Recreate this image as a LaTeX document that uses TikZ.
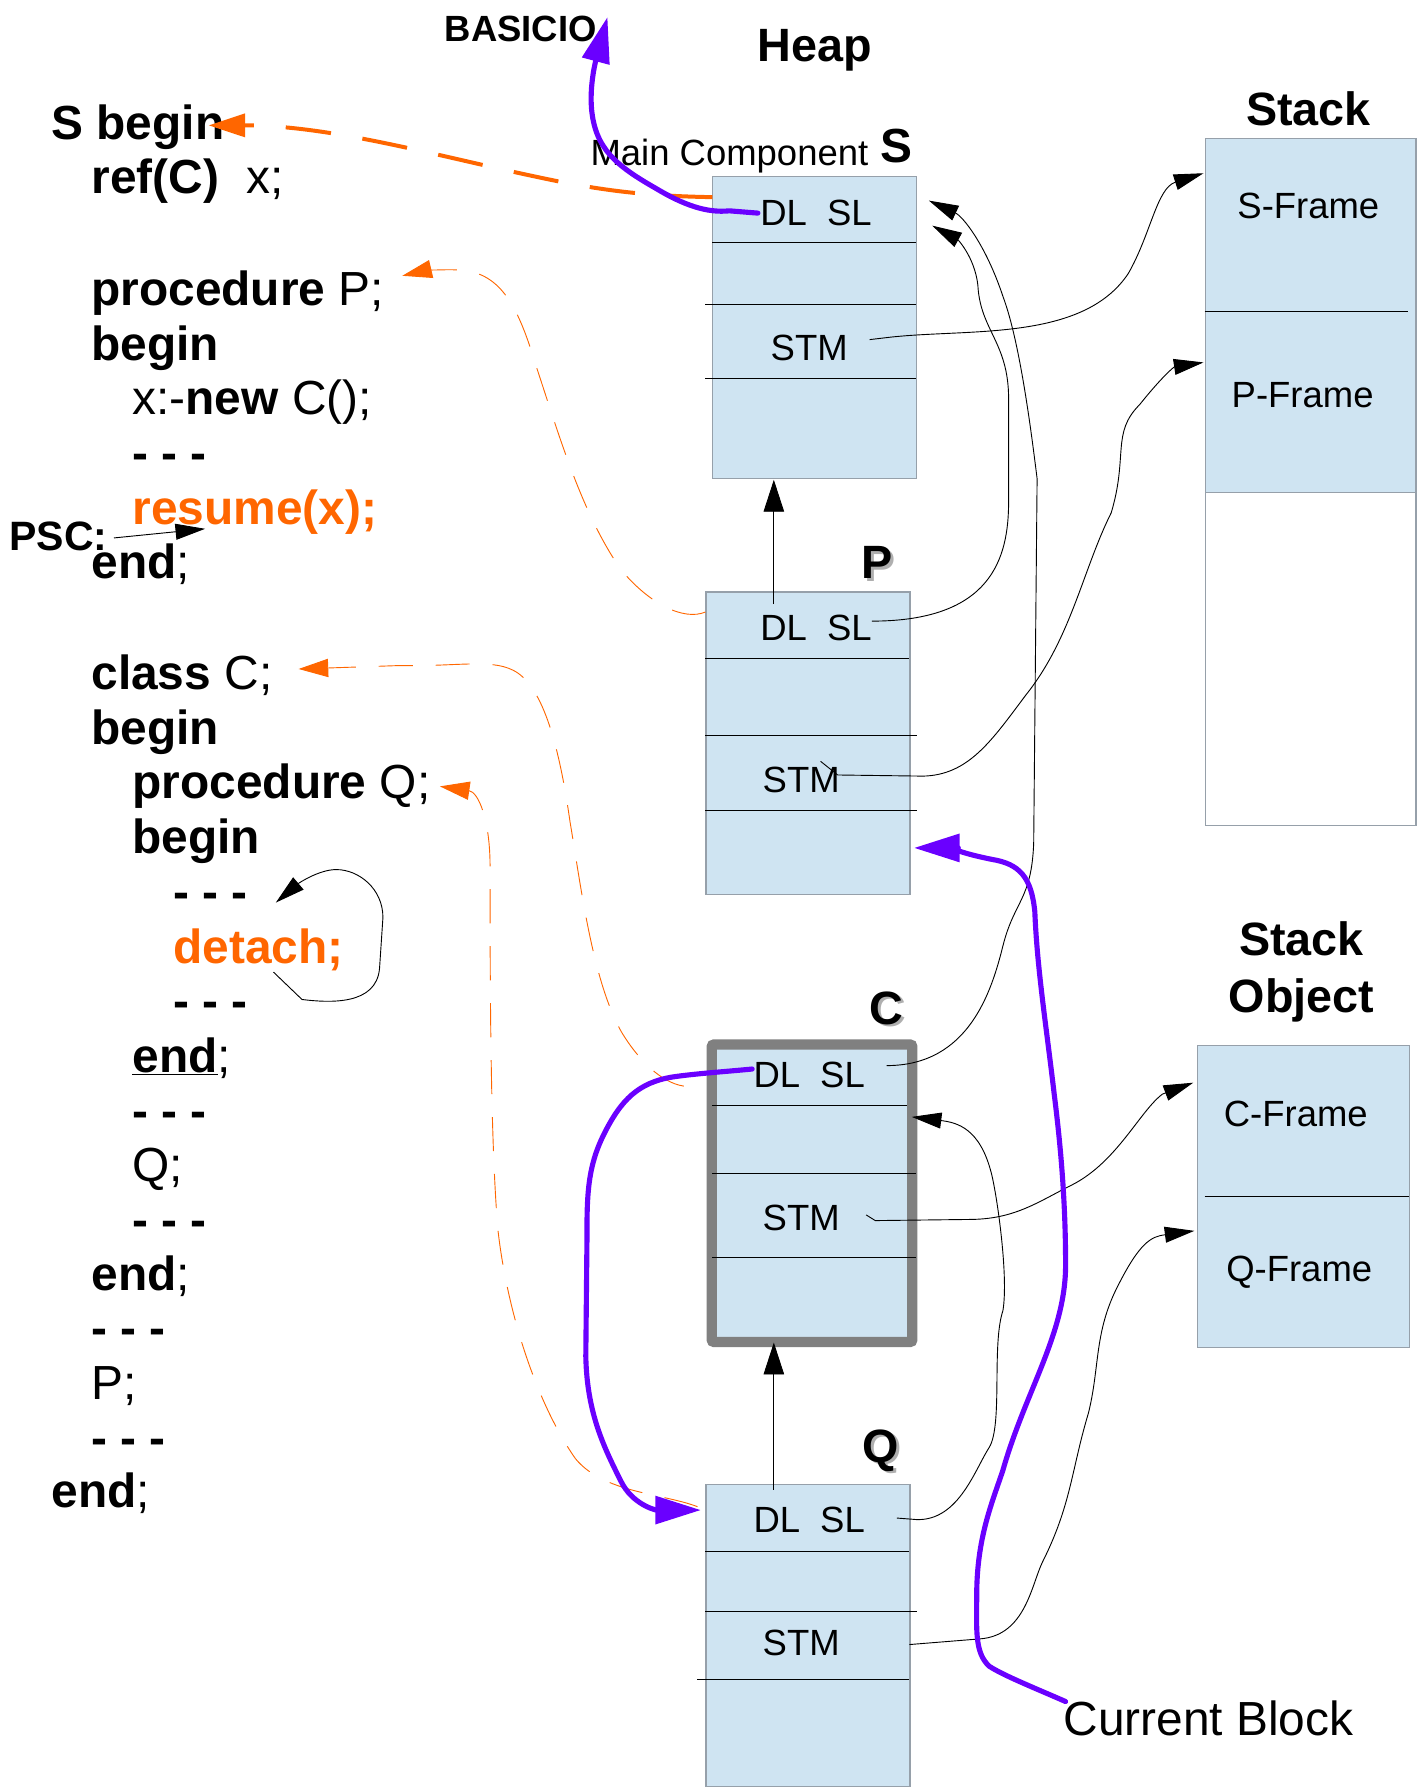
\documentclass[tikz,border=0pt]{standalone}
\usepackage{fontspec}
\setmainfont{Liberation Sans}
\usetikzlibrary{arrows.meta}
\definecolor{boxblue}{RGB}{207,228,242}
\definecolor{boxedge}{RGB}{150,160,170}
\definecolor{purp}{RGB}{106,0,255}
\definecolor{orng}{RGB}{255,102,0}
\definecolor{cgray}{RGB}{128,128,128}
\definecolor{shadowgray}{RGB}{175,175,175}
\newcommand{\codefont}{\fontsize{42}{48}\selectfont}
\newcommand{\lblfont}{\fontsize{32}{36}\selectfont}
\newcommand{\headfont}{\fontsize{41}{48}\selectfont\bfseries}
\begin{document}
\begin{tikzpicture}[x=1pt,y=-1pt,
  hbox/.style={draw=boxedge, fill=boxblue, line width=1pt, inner sep=0pt, anchor=north west},
  sepline/.style={draw=black, line width=0.8pt},
  code/.style={anchor=base west, inner sep=0pt, font=\codefont},
  lbl/.style={inner sep=0pt, font=\lblfont},
  conn/.style={draw=black, line width=0.8pt, -{Triangle[length=26pt,width=14pt]}},
  upconn/.style={draw=black, line width=0.8pt, -{Triangle[length=28pt,width=18pt]}},
  purparrow/.style={draw=purp, line width=4.5pt, line cap=round, -{Triangle[length=40pt,width=24pt]}},
  orthick/.style={draw=orng, line width=3.5pt, dash pattern=on 40pt off 28pt, -{Triangle[length=32pt,width=20pt]}},
  orthin/.style={draw=orng, line width=0.8pt, dash pattern=on 30pt off 20pt, -{Triangle[length=26pt,width=16pt]}},
  shad/.style={inner sep=0pt, anchor=base, font=\headfont, text=shadowgray},
  blab/.style={inner sep=0pt, anchor=base, font=\headfont}
]
\useasboundingbox (0,0) rectangle (1252,1568);

% ---------------- code text ----------------
\node[code] (l1) at (45,122) {\bfseries S begin};
\node[code] (l2) at (80,170) {\bfseries ref(C)\mdseries\hspace{0.3em} x;};
\node[code] (l3) at (80,268) {\bfseries procedure \mdseries P;};
\node[code] (l4) at (80,316) {\bfseries begin};
\node[code] (l5) at (116,364) {x:-\textbf{new} C();};
\node[code] (l6) at (116,412) {\bfseries - - -};
\node[code, text=orng] (l7) at (116,460) {\bfseries resume(x);};
\node[code] (l8) at (80,508) {\bfseries end\mdseries;};
\node[anchor=base west, inner sep=0pt, font=\fontsize{36}{40}\selectfont\bfseries] (psc) at (8,483) {PSC:};
\node[code] (l9) at (80,605) {\bfseries class \mdseries C;};
\node[code] (l10) at (80,653) {\bfseries begin};
\node[code] (l11) at (116,701) {\bfseries procedure \mdseries Q;};
\node[code] (l12) at (116,749) {\bfseries begin};
\node[code] (l13) at (152,797) {\bfseries - - -};
\node[code, text=orng] (l14) at (152,845) {\bfseries detach;};
\node[code] (l15) at (152,893) {\bfseries - - -};
\node[code] (l16) at (116,941) {\bfseries \underline{end}\mdseries;};
\node[code] (l17) at (116,989) {\bfseries - - -};
\node[code] (l18) at (116,1037) {Q;};
\node[code] (l19) at (116,1085) {\bfseries - - -};
\node[code] (l20) at (80,1132) {\bfseries end\mdseries;};
\node[code] (l21) at (80,1180) {\bfseries - - -};
\node[code] (l22) at (80,1228) {P;};
\node[code] (l23) at (80,1276) {\bfseries - - -};
\node[code] (l24) at (45,1323) {\bfseries end\mdseries;};

% ---------------- headings ----------------
\node[anchor=base west, inner sep=0pt, font=\fontsize{32}{36}\selectfont\bfseries] (basicio) at (390,36) {BASICIO};
\node[blab] (heap) at (715,54) {Heap};
\node[anchor=base west, inner sep=0pt, font=\lblfont] (maincomp) at (518,145) {Main Component};
\node[anchor=base west, inner sep=0pt, font=\fontsize{42}{48}\selectfont\bfseries] (sname) at (772,143) {S};
\node[blab] (stackh) at (1148,110) {Stack};
\node[blab] (stobj1) at (1142,838) {Stack};
\node[blab] (stobj2) at (1142,888) {Object};
\node[shad] at (772,510) {P};
\node[blab] (pname) at (770,508) {P};
\node[shad] at (780,901) {C};
\node[blab] (cname) at (778,899) {C};
\node[shad] at (775,1285) {Q};
\node[blab] (qname) at (773,1283) {Q};
\node[anchor=base west, inner sep=0pt, font=\fontsize{42}{48}\selectfont] (curblk) at (933,1523) {Current Block};

% ---------------- heap boxes ----------------
% S
\node[hbox, minimum width=179pt, minimum height=265pt] (S) at (625,154) {};
\draw[sepline] (625,213) -- (804,213);
\draw[sepline] (619,267) -- (804,267);
\draw[sepline] (619,332) -- (804,332);
\node[lbl] (sdl) at (716,187) {DL\hspace{0.55em}SL};
\node[lbl] (sstm) at (710,305) {STM};
% P
\node[hbox, minimum width=179pt, minimum height=265pt] (P) at (619,519) {};
\draw[sepline] (619,578) -- (798,578);
\draw[sepline] (619,645) -- (805,645);
\draw[sepline] (619,711) -- (805,711);
\node[lbl] (pdl) at (716,551) {DL\hspace{0.55em}SL};
\node[lbl] (pstm) at (703,684) {STM};
% C
\node[draw=cgray, line width=9pt, fill=boxblue, rounded corners=2pt, inner sep=0pt, anchor=north west, minimum width=176pt, minimum height=261pt] (C) at (620,912) {};
\draw[sepline] (625,970) -- (796,970);
\draw[sepline] (625,1030) -- (804,1030);
\draw[sepline] (625,1103) -- (804,1103);
\node[lbl] (cdl) at (710,943) {DL\hspace{0.55em}SL};
\node[lbl] (cstm) at (703,1069) {STM};
% Q
\node[hbox, minimum width=179pt, minimum height=265pt] (Q) at (619,1302) {};
\draw[sepline] (619,1361) -- (798,1361);
\draw[sepline] (619,1414) -- (805,1414);
\draw[sepline] (612,1474) -- (798,1474);
\node[lbl] (qdl) at (710,1334) {DL\hspace{0.55em}SL};
\node[lbl] (qstm) at (703,1442) {STM};

% ---------------- stack boxes ----------------
\node[hbox, minimum width=185pt, minimum height=311pt] (stk) at (1057,121) {};
\node[draw=boxedge, fill=white, line width=1pt, inner sep=0pt, anchor=north west, minimum width=185pt, minimum height=292pt] (stkfree) at (1057,432) {};
\draw[sepline] (1057,273) -- (1235,273);
\node[lbl] (sframe) at (1148,181) {S-Frame};
\node[lbl] (pframe) at (1143,347) {P-Frame};

\node[hbox, minimum width=186pt, minimum height=265pt] (sobj) at (1050,917) {};
\draw[sepline] (1057,1050) -- (1236,1050);
\node[lbl] (cframe) at (1137,977) {C-Frame};
\node[lbl] (qframe) at (1140,1116) {Q-Frame};

% ---------------- named endpoints ----------------
\coordinate (pTop) at (679,530);
\coordinate (sBot) at (679,421);
\coordinate (qTop) at (679,1307);
\coordinate (cBot) at (679,1178);
\coordinate (sStmOut) at (763,298);
\coordinate (sFrameIn) at (1056,152);
\coordinate (pSlOut) at (765,545);
\coordinate (sTip1) at (818,198);
\coordinate (cSlOut) at (778,935);
\coordinate (sTip2) at (815,176);
\coordinate (pStmOut) at (720,668);
\coordinate (pFrameIn) at (1056,318);
\coordinate (cStmOut) at (760,1066);
\coordinate (cFrameIn) at (1047,950);
\coordinate (qSlOut) at (787,1332);
\coordinate (cRightIn) at (800,980);
\coordinate (qStmOut) at (798,1443);
\coordinate (qFrameIn) at (1048,1080);
\coordinate (loopStart) at (240,853);
\coordinate (loopTip) at (242,792);
\coordinate (pscStart) at (100,472);
\coordinate (pscTip) at (180,464);
\coordinate (sLeft) at (625,173);
\coordinate (sBeginTip) at (183,110);
\coordinate (pLeft) at (619,537);
\coordinate (procPTip) at (353,242);
\coordinate (cLeft) at (600,953);
\coordinate (classCTip) at (262,587);
\coordinate (qLeft) at (612,1322);
\coordinate (procQTip) at (386,690);
\coordinate (sDlStart) at (665,187);
\coordinate (basicTip) at (533,15);
\coordinate (cDlStart) at (660,938);
\coordinate (qLeftIn) at (615,1325);
\coordinate (cbStart) at (935,1493);
\coordinate (pBoxIn) at (802,744);

% ---------------- orange dashed connectors ----------------
\draw[orthick] (sLeft) .. controls (570,172) and (530,168) .. (470,155) .. controls (380,136) and (290,110) .. (sBeginTip);
\draw[orthin] (pLeft) .. controls (600,545) and (570,530) .. (545,500) .. controls (510,450) and (490,380) .. (470,320) .. controls (455,270) and (440,240) .. (405,237) .. controls (390,236) and (370,238) .. (procPTip);
\draw[orthin] (cLeft) .. controls (580,950) and (560,930) .. (545,905) .. controls (520,860) and (510,780) .. (500,720) .. controls (490,650) and (475,600) .. (450,588) .. controls (430,578) and (400,585) .. (350,584) -- (classCTip);
\draw[orthin] (qLeft) .. controls (580,1310) and (530,1310) .. (505,1280) .. controls (470,1230) and (445,1150) .. (437,1080) .. controls (430,1000) and (430,850) .. (430,760) .. controls (430,720) and (420,695) .. (procQTip);

% ---------------- black connectors ----------------
\draw[upconn] (pTop) -- (sBot);
\draw[upconn] (qTop) -- (cBot);
\draw[conn] (sStmOut) -- (780,296) .. controls (850,288) and (950,300) .. (990,240) .. controls (1010,205) and (1015,165) .. (sFrameIn);
\draw[conn] (pSlOut) .. controls (870,545) and (885,490) .. (885,440) -- (885,350) .. controls (885,300) and (860,290) .. (858,250) .. controls (855,225) and (840,210) .. (sTip1);
\draw[conn] (cSlOut) .. controls (850,935) and (870,870) .. (880,830) .. controls (890,790) and (905,790) .. (907,740) -- (910,420) .. controls (905,380) and (895,300) .. (880,260) .. controls (865,215) and (845,190) .. (sTip2);
\draw[conn] (pStmOut) -- (735,680) -- (810,681) .. controls (850,680) and (870,650) .. (900,610) .. controls (940,560) and (950,500) .. (975,450) .. controls (990,400) and (975,380) .. (1000,355) .. controls (1020,330) and (1030,322) .. (pFrameIn);
\draw[conn] (cStmOut) -- (768,1071) -- (850,1070) .. controls (890,1070) and (910,1055) .. (940,1040) .. controls (980,1020) and (1000,975) .. (1020,960) -- (cFrameIn);
\draw[conn] (qSlOut) -- (800,1333) .. controls (840,1338) and (855,1290) .. (868,1270) .. controls (880,1250) and (870,1180) .. (880,1150) .. controls (885,1120) and (875,1050) .. (870,1030) .. controls (860,990) and (840,985) .. (cRightIn);
\draw[conn] (qStmOut) -- (860,1438) .. controls (900,1435) and (905,1390) .. (915,1370) .. controls (940,1320) and (940,1290) .. (955,1240) .. controls (965,1200) and (960,1170) .. (980,1130) .. controls (1000,1090) and (1010,1085) .. (qFrameIn);
\draw[conn] (loopStart) -- (265,877) .. controls (290,880) and (330,882) .. (333,850) -- (336,805) .. controls (336,780) and (315,763) .. (295,763) .. controls (280,763) and (262,775) .. (loopTip);
\draw[conn] (pscStart) -- (pscTip);

% ---------------- purple connectors ----------------
\draw[purparrow] (sDlStart) -- (640,185) .. controls (620,187) and (600,180) .. (575,165) .. controls (540,145) and (522,130) .. (519,95) .. controls (517,70) and (525,45) .. (basicTip);
\draw[purparrow] (cDlStart) .. controls (640,940) and (610,942) .. (590,945) .. controls (560,950) and (545,965) .. (530,995) .. controls (515,1025) and (515,1050) .. (515,1090) -- (514,1190) .. controls (515,1240) and (530,1270) .. (545,1300) .. controls (555,1320) and (575,1325) .. (qLeftIn);
\draw[purparrow] (cbStart) .. controls (910,1482) and (880,1470) .. (868,1462) .. controls (855,1450) and (857,1430) .. (857,1400) .. controls (857,1350) and (870,1320) .. (880,1290) .. controls (900,1220) and (935,1170) .. (935,1110) .. controls (935,1050) and (930,1000) .. (925,960) .. controls (918,900) and (910,850) .. (908,800) .. controls (905,770) and (895,758) .. (870,754) .. controls (850,750) and (830,744) .. (pBoxIn);
\end{tikzpicture}
\end{document}
